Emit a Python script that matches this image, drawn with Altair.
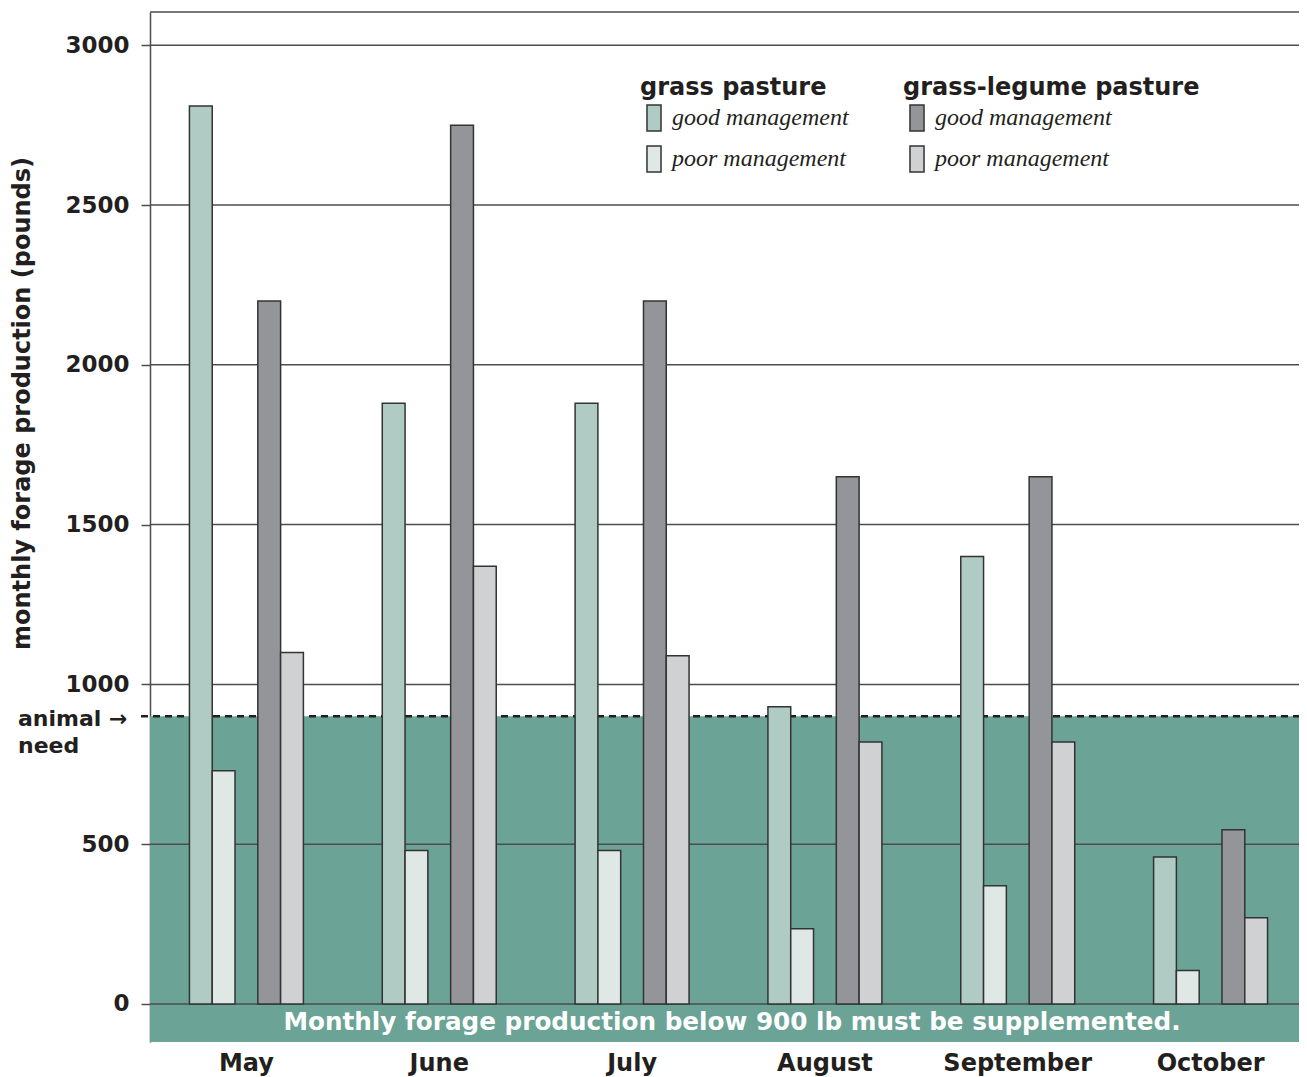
import altair as alt
import pandas as pd

# ---- data ----
months = ["May", "June", "July", "August", "September", "October"]
grass_good = [2810, 1880, 1880, 930, 1400, 460]
grass_poor = [730, 480, 480, 235, 370, 105]
legume_good = [2200, 2750, 2200, 1650, 1650, 545]
legume_poor = [1100, 1370, 1090, 820, 820, 270]
management = ["good management", "poor management"]
slots = ["grass good", "grass poor", "gap", "legume good", "legume poor"]
y_ticks = [0, 500, 1000, 1500, 2000, 2500, 3000]
need = 900
y_domain = [-119, 3104]
band_text = "Monthly forage production below 900 lb must be supplemented."
need_label = ["animal \u2192", "need"]

# ---- styling ----
W, H = 1149, 1030
X_SPAN = 1157
INK = "#231f20"
GRID = "#4d4d4d"
BAND = "#6ba396"
HEAVY = "DejaVu Sans"
grass_colors = ["#b0cbc4", "#dfe8e5"]
legume_colors = ["#939598", "#d0d1d3"]

rows = []
for i, m in enumerate(months):
    rows.append(dict(month=m, slot="grass good", management=management[0], pasture="grass", value=grass_good[i]))
    rows.append(dict(month=m, slot="grass poor", management=management[1], pasture="grass", value=grass_poor[i]))
    rows.append(dict(month=m, slot="legume good", management=management[0], pasture="legume", value=legume_good[i]))
    rows.append(dict(month=m, slot="legume poor", management=management[1], pasture="legume", value=legume_poor[i]))
df = pd.DataFrame(rows)

y_axis = alt.Axis(
    values=y_ticks, format="d", grid=False, tickSize=9, tickColor=GRID, tickWidth=1.5,
    domain=True, domainColor=GRID, domainWidth=1.5,
    labelFont=HEAVY, labelFontWeight="bold", labelFontSize=23, labelColor=INK, labelPadding=12,
    title="monthly forage production (pounds)", titleFont=HEAVY, titleFontWeight="bold",
    titleFontSize=24, titleColor=INK, titleX=-116, titleY=391, titleAngle=270,
)
y_scale = alt.Scale(domain=y_domain, nice=False, zero=False)

x_enc = alt.X(
    "month:N", sort=months,
    scale=alt.Scale(domain=months, range=[0, X_SPAN], paddingInner=0.409, paddingOuter=0.2045),
    axis=alt.Axis(title=None, domain=False, ticks=False, labelAngle=0,
                  labelFont=HEAVY, labelFontWeight="bold", labelFontSize=24,
                  labelColor=INK, labelPadding=9),
)
xoff_enc = alt.XOffset("slot:N", scale=alt.Scale(domain=slots, paddingInner=0, paddingOuter=0))

sym_path = "M-0.54,-1H0.54V1H-0.54Z"
legend_common = dict(
    orient="none", direction="vertical", padding=0,
    titleFont=HEAVY, titleFontWeight="bold", titleFontSize=24, titleColor=INK, titlePadding=4,
    titleLimit=500, labelLimit=400,
    labelFont="Liberation Serif", labelFontStyle="italic", labelFontSize=24, labelColor=INK,
    labelOffset=4, symbolType=sym_path, symbolSize=676, symbolStrokeColor="#333333",
    symbolStrokeWidth=1.5, symbolOpacity=1, rowPadding=9, legendY=64,
)

band = alt.Chart(pd.DataFrame({"value": [need]})).mark_rect(color=BAND).encode(
    y=alt.Y("value:Q", scale=y_scale, axis=y_axis),
    y2=alt.value(H), x=alt.value(0), x2=alt.value(W),
)

grid = alt.Chart(pd.DataFrame({"value": y_ticks})).mark_rule(color=GRID, strokeWidth=1.5).encode(
    y=alt.Y("value:Q", scale=y_scale, axis=y_axis), x=alt.value(0), x2=alt.value(W),
)

top_line = alt.Chart(pd.DataFrame({"value": [0]})).mark_rule(color=GRID, strokeWidth=1.5).encode(
    y=alt.value(0), x=alt.value(0), x2=alt.value(W),
)

need_line = alt.Chart(pd.DataFrame({"value": [need]})).mark_rule(
    color=INK, strokeWidth=2.5, strokeDash=[7, 5]
).encode(
    y=alt.Y("value:Q", scale=y_scale, axis=y_axis), x=alt.value(-9), x2=alt.value(W),
)

grass_bars = alt.Chart(df[df.pasture == "grass"]).mark_bar(stroke="#333333", strokeWidth=1.5).encode(
    x=x_enc, xOffset=xoff_enc,
    y=alt.Y("value:Q", scale=y_scale, axis=y_axis),
    color=alt.Color("management:N", scale=alt.Scale(domain=management, range=grass_colors),
                    legend=alt.Legend(title="grass pasture", legendX=490, **legend_common)),
)

legume_bars = alt.Chart(df[df.pasture == "legume"]).mark_bar(stroke="#333333", strokeWidth=1.5).encode(
    x=x_enc, xOffset=xoff_enc,
    y=alt.Y("value:Q", scale=y_scale, axis=y_axis),
    color=alt.Color("management:N", scale=alt.Scale(domain=management, range=legume_colors),
                    legend=alt.Legend(title="grass-legume pasture", legendX=753, **legend_common)),
)

band_label = alt.Chart(pd.DataFrame({"label": [band_text]})).mark_text(
    font=HEAVY, fontWeight="bold", fontSize=24.7, color="white", align="center", baseline="middle"
).encode(text="label:N", x=alt.value(582), y=alt.value(H - 19))

need_text_1 = alt.Chart(pd.DataFrame({"label": [need_label[0]], "value": [need]})).mark_text(
    font=HEAVY, fontWeight="bold", fontSize=22, color=INK, align="left", baseline="middle", dy=3
).encode(
    text="label:N", x=alt.value(-132),
    y=alt.Y("value:Q", scale=y_scale, axis=y_axis),
)
need_text_2 = alt.Chart(pd.DataFrame({"label": [need_label[1]], "value": [need]})).mark_text(
    font=HEAVY, fontWeight="bold", fontSize=22, color=INK, align="left", baseline="middle", dy=30
).encode(
    text="label:N", x=alt.value(-132),
    y=alt.Y("value:Q", scale=y_scale, axis=y_axis),
)

chart = alt.layer(
    band, grid, top_line, need_line, grass_bars, legume_bars, band_label, need_text_1, need_text_2
).resolve_scale(color="independent").properties(
    width=W, height=H,
    autosize=alt.AutoSizeParams(type="none"),
    padding={"left": 142, "top": 4, "right": 0, "bottom": 35},
    background="white",
).configure_view(stroke=None)

chart.save("out.html", embed_options={"renderer": "svg", "actions": False})
